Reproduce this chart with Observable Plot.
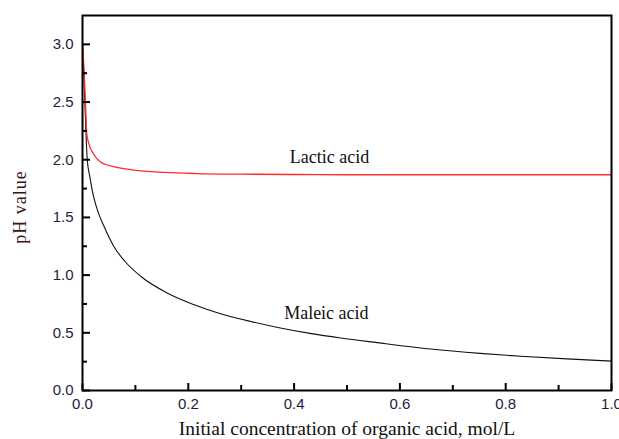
<!DOCTYPE html>
<html>
<head>
<meta charset="utf-8">
<script src="https://cdn.jsdelivr.net/npm/d3@7"></script>
<script src="https://cdn.jsdelivr.net/npm/@observablehq/plot@0.6"></script>
<style>
  html, body { margin: 0; padding: 0; background: #fff; }
  #chart { width: 619px; height: 439px; overflow: hidden; }
</style>
</head>
<body>
<div id="chart"></div>
<script>
// Lactic acid (red)
const lacticX = [0, 0.003, 0.006, 0.008, 0.012, 0.021, 0.034, 0.059, 0.097, 0.154, 0.217, 0.3, 0.4, 0.5, 0.6, 0.7, 0.8, 0.9, 1.0];
const lacticY = [3.0, 2.77, 2.45, 2.23, 2.14, 2.05, 1.98, 1.94, 1.91, 1.89, 1.88, 1.875, 1.872, 1.87, 1.87, 1.87, 1.87, 1.87, 1.87];
// Maleic acid (black)
const maleicX = [0, 0.002, 0.006, 0.009, 0.014, 0.021, 0.030, 0.040, 0.059, 0.080, 0.110, 0.160, 0.210, 0.261, 0.318, 0.374, 0.430, 0.488, 0.557, 0.658, 0.752, 0.828, 0.916, 1.0];
const maleicY = [3.0, 2.8, 2.3, 2.0, 1.85, 1.68, 1.54, 1.43, 1.25, 1.12, 0.99, 0.845, 0.745, 0.665, 0.598, 0.542, 0.495, 0.455, 0.415, 0.36, 0.322, 0.297, 0.274, 0.255];

const xMajor = [0, 0.2, 0.4, 0.6, 0.8, 1.0];
const xMinor = [0.1, 0.3, 0.5, 0.7, 0.9];
const yMajor = [0, 0.5, 1.0, 1.5, 2.0, 2.5, 3.0];
const yMinor = [0.25, 0.75, 1.25, 1.75, 2.25, 2.75];

const seriesNames = ["Lactic acid", "Maleic acid"];
const xTitle = "Initial concentration of organic acid, mol/L";
const yTitle = "pH value";

const lactic = lacticX.map((x, i) => ({x, y: lacticY[i]}));
const maleic = maleicX.map((x, i) => ({x, y: maleicY[i]}));

const tickColor = "#1c1c3c";
const sans = "'Liberation Sans', Arial, sans-serif";
const serif = "'Liberation Serif', 'Times New Roman', serif";

const chart = Plot.plot({
  width: 619,
  height: 439,
  marginLeft: 82,
  marginRight: 8,
  marginTop: 15,
  marginBottom: 49,
  style: {fontFamily: sans, background: "#fff"},
  x: {domain: [0, 1.0]},
  y: {domain: [0, 3.25]},
  marks: [
    Plot.line(maleic, {x: "x", y: "y", stroke: "#111", strokeWidth: 1.1, curve: "monotone-x"}),
    Plot.line(lactic, {x: "x", y: "y", stroke: "#ff2a2a", strokeWidth: 1.3, curve: "monotone-x"}),
    Plot.frame({stroke: "#000", strokeWidth: 2}),
    // y axis labels and inward ticks
    Plot.axisY({ticks: yMajor, tickSize: 0, tickPadding: 9, tickFormat: d3.format(".1f"), fontSize: 15, color: tickColor, label: null}),
    Plot.axisY({ticks: yMajor, tickSize: -8, text: null, stroke: "#000", strokeWidth: 2, label: null}),
    Plot.axisY({ticks: yMinor, tickSize: -5, text: null, stroke: "#000", strokeWidth: 2, label: null}),
    // x axis labels and inward ticks
    Plot.axisX({ticks: xMajor, tickSize: 0, tickPadding: 8, tickFormat: d3.format(".1f"), fontSize: 15, color: tickColor, label: null}),
    Plot.axisX({ticks: xMajor, tickSize: -7, text: null, stroke: "#000", strokeWidth: 2, label: null}),
    Plot.axisX({ticks: xMinor, tickSize: -5, text: null, stroke: "#000", strokeWidth: 2, label: null}),
    // series labels
    Plot.text([seriesNames[0]], {x: 0.467, y: 2.02, text: d => d, fontFamily: serif, fontSize: 18, fill: "#111"}),
    Plot.text([seriesNames[1]], {x: 0.461, y: 0.668, text: d => d, fontFamily: serif, fontSize: 18, fill: "#111"}),
    // axis titles
    Plot.text([xTitle], {frameAnchor: "bottom", lineAnchor: "middle", textAnchor: "middle", dy: 38, text: d => d, fontFamily: serif, fontSize: 19.5, fill: "#111"}),
    Plot.text([yTitle], {frameAnchor: "left", lineAnchor: "middle", textAnchor: "middle", dx: -62, dy: 4, rotate: -90, text: d => d, fontFamily: serif, fontSize: 18, fill: "#3a1414"})
  ]
});
d3.select(chart).selectAll("text").filter(function() { return this.textContent === yTitle; }).style("letter-spacing", "1px");
document.getElementById("chart").appendChild(chart);
</script>
</body>
</html>
